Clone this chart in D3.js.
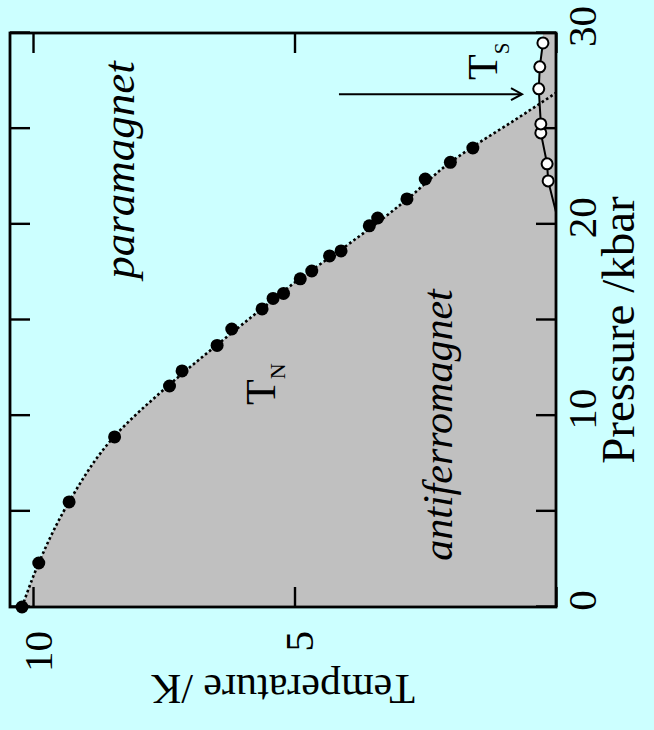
<!DOCTYPE html>
<html>
<head>
<meta charset="utf-8">
<script src="https://cdn.jsdelivr.net/npm/d3@7"></script>
<style>
  html, body { margin: 0; padding: 0; background: #ccffff; }
  svg { display: block; }
  text { font-family: "Liberation Serif", "Times New Roman", serif; fill: #000; }
</style>
</head>
<body>
<svg id="chart" width="654" height="730"></svg>
<script>
// Néel temperature T_N (filled circles)
const tnPressure    = [0, 2.30, 5.49, 8.89, 11.55, 12.34, 13.67, 14.53, 15.58, 16.13, 16.39, 17.15, 17.56, 18.35, 18.61, 19.92, 20.33, 21.33, 22.37, 23.24, 23.99];
const tnTemperature = [10.21, 9.89, 9.31, 8.44, 7.39, 7.15, 6.48, 6.20, 5.62, 5.41, 5.21, 4.89, 4.67, 4.33, 4.11, 3.57, 3.41, 2.85, 2.50, 2.02, 1.59];

// Dotted T_N(p) phase boundary
const boundaryPressure    = [0, 2.3, 5.5, 8.9, 11.6, 13.7, 15.6, 17.2, 18.7, 21.3, 23.2, 24.0, 25.5, 26.87];
const boundaryTemperature = [10.21, 9.89, 9.31, 8.45, 7.40, 6.48, 5.62, 4.88, 4.10, 2.85, 2.04, 1.62, 0.76, 0];

// Second transition T_S (open circles) and the pressure where it sets in
const tsPressure    = [22.27, 23.16, 24.78, 25.25, 27.08, 28.23, 29.48];
const tsTemperature = [0.15, 0.17, 0.29, 0.29, 0.33, 0.31, 0.25];
const tsOnsetPressure = 20.65;

// Arrow marking the critical pressure
const arrowPressure = 26.8;
const arrowFromT = 4.15;
const arrowToT = 0.65;

// Axes
const pressureDomain = [0, 30];
const temperatureDomain = [0, 10.44];
const pressureTicks = [0, 5, 10, 15, 20, 25, 30];
const pressureLabels = [0, 10, 20, 30];
const temperatureTicks = [0, 5, 10];
const temperatureLabels = [5, 10];

const W = 574, H = 546;
const FONT = "Liberation Serif, Times New Roman, serif";
const svg = d3.select("#chart");

// The figure is laid out as pressure (horizontal) vs temperature (vertical)
// and then turned a quarter turn anticlockwise.
const g = svg.append("g").attr("transform", "translate(10,607) rotate(-90)");

const x = d3.scaleLinear().domain(pressureDomain).range([0, W]);
const y = d3.scaleLinear().domain(temperatureDomain).range([H, 0]);

// Ordered phase region (grey)
const tnArea = d3.area()
  .x((d) => x(d[0])).y0(y(0)).y1((d) => y(d[1]))
  .curve(d3.curveMonotoneX);
const boundary = boundaryPressure.map((p, i) => [p, boundaryTemperature[i]]);
g.append("path").datum(boundary).attr("d", tnArea).attr("fill", "#c0c0c0");

const tsPoints = tsPressure.map((p, i) => [p, tsTemperature[i]]);
const tsLine = [[tsOnsetPressure, 0], ...tsPoints];
const tsFill = [...tsLine, [pressureDomain[1], tsTemperature[tsTemperature.length - 1]]];
g.append("path").datum(tsFill)
  .attr("d", d3.area().x((d) => x(d[0])).y0(y(0)).y1((d) => y(d[1])))
  .attr("fill", "#c0c0c0");

// Dotted boundary line
g.append("path").datum(boundary)
  .attr("d", d3.line().x((d) => x(d[0])).y((d) => y(d[1])).curve(d3.curveMonotoneX))
  .attr("fill", "none").attr("stroke", "#000")
  .attr("stroke-width", 2.6).attr("stroke-dasharray", "2.6,2.6");

// Axes with inward ticks on all four sides
const tickLen = 20;
function styleAxis(sel) {
  sel.attr("font-family", FONT);
  sel.select(".domain").remove();
  sel.selectAll(".tick line").attr("stroke", "#000").attr("stroke-width", 2.4);
  sel.selectAll(".tick text").attr("font-family", FONT).attr("font-size", 41).attr("fill", "#000");
}
g.append("g").attr("transform", `translate(0,${H})`)
  .call(d3.axisBottom(x).tickValues(pressureTicks).tickSize(-tickLen).tickPadding(11)
    .tickFormat((d) => pressureLabels.includes(d) ? d : ""))
  .call(styleAxis)
  .call((s) => s.selectAll(".tick text").attr("dx", 6));
g.append("g")
  .call(d3.axisTop(x).tickValues(pressureTicks).tickSize(-tickLen).tickFormat(""))
  .call(styleAxis);
g.append("g")
  .call(d3.axisLeft(y).tickValues(temperatureTicks).tickSize(-tickLen).tickPadding(24)
    .tickFormat((d) => temperatureLabels.includes(d) ? d : ""))
  .call(styleAxis)
  .call((s) => s.selectAll(".tick text").attr("dy", "0.45em"));
g.append("g").attr("transform", `translate(${W},0)`)
  .call(d3.axisRight(y).tickValues(temperatureTicks).tickSize(-tickLen).tickFormat(""))
  .call(styleAxis);

// T_S line and open circles
g.append("path").datum(tsLine)
  .attr("d", d3.line().x((d) => x(d[0])).y((d) => y(d[1])))
  .attr("fill", "none").attr("stroke", "#000").attr("stroke-width", 2);
g.selectAll("circle.ts").data(tsPoints).join("circle")
  .attr("class", "ts")
  .attr("cx", (d) => x(d[0])).attr("cy", (d) => y(d[1])).attr("r", 5.5)
  .attr("fill", "#fff").attr("stroke", "#000").attr("stroke-width", 2);

// T_N filled circles
g.selectAll("circle.tn").data(tnPressure.map((p, i) => [p, tnTemperature[i]])).join("circle")
  .attr("class", "tn")
  .attr("cx", (d) => x(d[0])).attr("cy", (d) => y(d[1])).attr("r", 6.5)
  .attr("fill", "#000");

// Frame
g.append("rect").attr("x", 0).attr("y", 0).attr("width", W).attr("height", H)
  .attr("fill", "none").attr("stroke", "#000").attr("stroke-width", 2.8);

// Arrow at the critical pressure
const ax = x(arrowPressure), ay0 = y(arrowFromT), ay1 = y(arrowToT);
g.append("line").attr("x1", ax).attr("x2", ax).attr("y1", ay0).attr("y2", ay1)
  .attr("stroke", "#000").attr("stroke-width", 2);
g.append("path")
  .attr("d", `M${ax - 6},${ay1 - 11}L${ax},${ay1}L${ax + 6},${ay1 - 11}`)
  .attr("fill", "none").attr("stroke", "#000").attr("stroke-width", 2);

// Phase labels
g.append("text").attr("x", 437).attr("y", 124).attr("text-anchor", "middle")
  .attr("font-family", FONT).attr("font-size", 45).attr("font-style", "italic").text("paramagnet");
g.append("text").attr("x", 182).attr("y", 442).attr("text-anchor", "middle")
  .attr("font-family", FONT).attr("font-size", 42).attr("font-style", "italic").text("antiferromagnet");

const tn = g.append("text").attr("x", 202).attr("y", 265)
  .attr("font-family", FONT).attr("font-size", 42);
tn.append("tspan").text("T");
tn.append("tspan").attr("font-size", 22).attr("dy", 10).text("N");

const ts = g.append("text").attr("x", 527).attr("y", 487)
  .attr("font-family", FONT).attr("font-size", 42);
ts.append("tspan").text("T");
ts.append("tspan").attr("font-size", 21).attr("dy", 12).text("S");

// Axis titles
g.append("text").attr("x", 277).attr("y", 624).attr("text-anchor", "middle")
  .attr("font-family", FONT).attr("font-size", 47).text("Pressure /kbar");
g.append("text").attr("transform", `translate(-83,${H / 2}) rotate(-90)`)
  .attr("text-anchor", "middle").attr("dy", "0.35em")
  .attr("font-family", FONT).attr("font-size", 42).text("Temperature /K");
</script>
</body>
</html>
